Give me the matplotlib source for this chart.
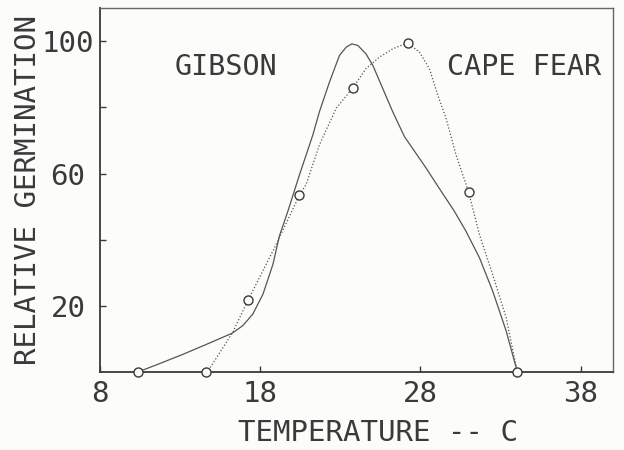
import matplotlib.pyplot as plt

# measured germination points (temperature C, relative germination)
gibson_temp = [10.35]
gibson_germ = [0]
cape_temp = [14.6, 17.25, 20.45, 23.8, 27.2, 31.0, 34.05]
cape_germ = [0, 21.8, 53.4, 86.0, 99.5, 54.5, 0]

# hand drawn response curves
gibson_curve_t = [10.35, 11.74, 13.19, 14.65, 16.27, 16.93, 17.55, 18.18, 18.8, 19.2, 19.73, 20.46,
	21.29, 21.7, 22.33, 22.95, 23.37, 23.72, 24.1, 24.6, 25.03, 25.65, 26.27, 27.0, 28.35, 29.18,
	30.12, 30.84, 31.68, 32.5, 33.34, 34.05]
gibson_curve_g = [0, 2.6, 5.4, 8.4, 11.8, 14.1, 17.6, 23.6, 32.6, 41.1, 48.6, 59.7,
	71.7, 78.7, 87.7, 95.7, 98.2, 99.2, 98.7, 96.2, 92.7, 85.7, 78.7, 71.2, 61.7, 55.5,
	48.6, 42.6, 34.6, 24.6, 12.6, 0]
cape_curve_t = [14.6, 14.85, 16.3, 17.25, 18.9, 20.45, 20.87, 21.7, 22.74, 23.8, 24.6, 25.45,
	26.27, 27.2, 27.94, 28.56, 29.08, 29.6, 30.22, 31.0, 31.68, 32.5, 33.34, 34.05]
cape_curve_g = [0, 1.1, 12.1, 21.8, 37.6, 53.4, 56.7, 68.7, 79.7, 86.0, 91.7, 95.2,
	97.7, 99.5, 96.7, 91.7, 83.7, 76.7, 65.7, 54.5, 41.6, 29.6, 16.6, 0]

x_ticks = [8, 18, 28, 38]
y_ticks = [20, 40, 60, 80, 100]
y_labels = ['20', '', '60', '', '100']

ink = '#3a3a3a'
plt.rcParams['font.family'] = ['DejaVu Sans Mono']
plt.rcParams['font.size'] = 21

fig = plt.figure(figsize=(6.24, 4.5), dpi=100, facecolor='#fcfcfa')
ax = fig.add_axes([0.160, 0.173, 0.822, 0.809])
ax.set_facecolor('#fcfcfa')

ax.plot(gibson_curve_t, gibson_curve_g, color='#555555', lw=0.9,
	solid_capstyle='round', solid_joinstyle='round')
ax.plot(cape_curve_t, cape_curve_g, color='#555555', lw=0.9, linestyle=(0, (1, 1.6)))
ax.plot(gibson_temp, gibson_germ, 'o', ms=6.5, mfc='#fcfcfa', mec=ink, mew=1.0, clip_on=False, zorder=5)
ax.plot(cape_temp, cape_germ, 'o', ms=6.5, mfc='#fcfcfa', mec=ink, mew=1.0, clip_on=False, zorder=5)

ax.text(12.67, 92.3, 'GIBSON', color=ink, va='center', ha='left', fontsize=20.5)
ax.text(29.68, 92.3, 'CAPE FEAR', color=ink, va='center', ha='left', fontsize=20.5)

ax.set_xlim(8, 40)
ax.set_ylim(0, 110)
ax.set_xticks(x_ticks)
ax.set_yticks(y_ticks, labels=y_labels)
for lab in ax.get_yticklabels():
	lab.set_horizontalalignment('center')
ax.tick_params(axis='both', direction='in', length=4, width=1, colors=ink, labelcolor=ink)
ax.tick_params(axis='y', pad=23)
ax.tick_params(axis='x', pad=6)

for side in ['left', 'bottom']:
	ax.spines[side].set_color(ink)
	ax.spines[side].set_linewidth(1.3)
for side in ['top', 'right']:
	ax.spines[side].set_color('#666666')
	ax.spines[side].set_linewidth(1.0)

ax.set_xlabel('TEMPERATURE -- C', color=ink)
ax.set_ylabel('RELATIVE GERMINATION', color=ink)
ax.xaxis.set_label_coords(0.542, -0.128)
ax.yaxis.set_label_coords(-0.113, 0.5)

fig.savefig('out.png', dpi=100, facecolor=fig.get_facecolor())
